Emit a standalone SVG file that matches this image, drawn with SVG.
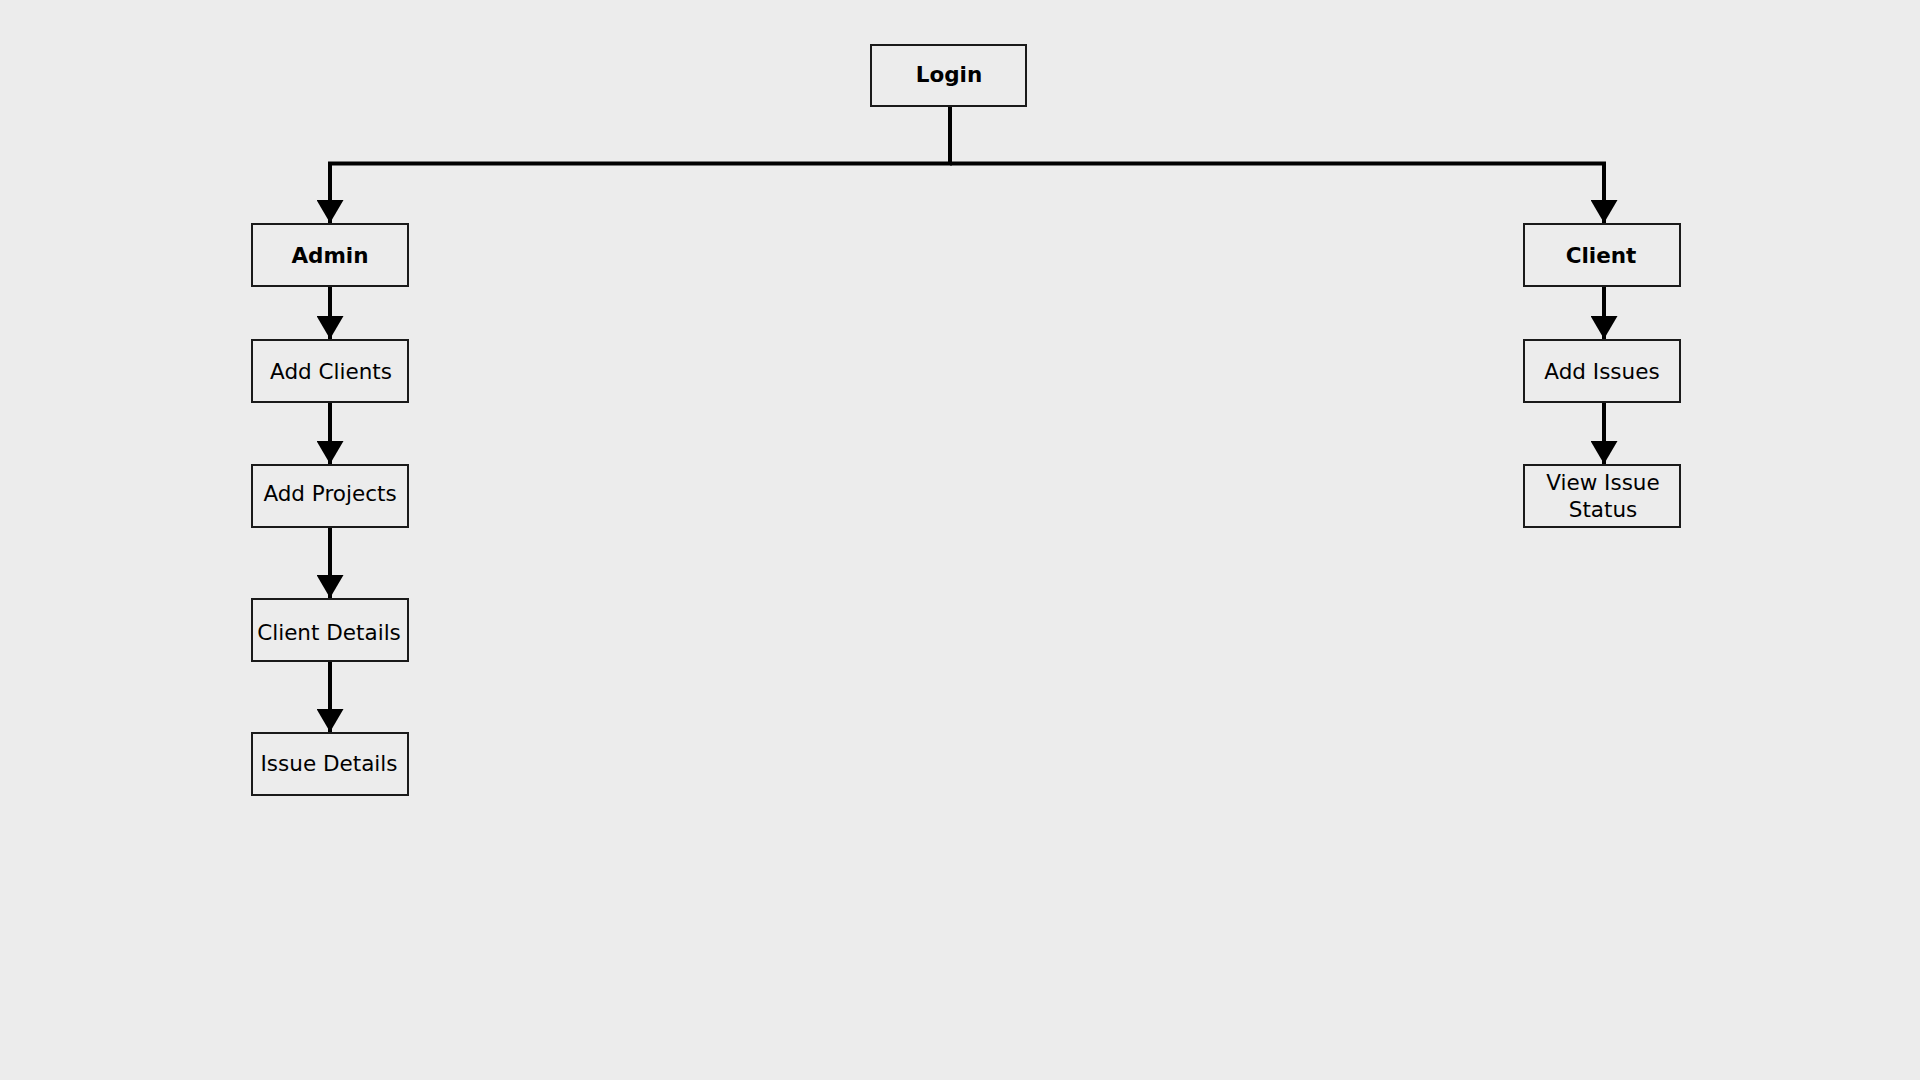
<svg xmlns="http://www.w3.org/2000/svg" width="1920" height="1080" viewBox="0 0 1920 1080">
<style>
.box{fill:#ececec;stroke:#1a1a1a;stroke-width:2}
.t{font-family:"DejaVu Sans",sans-serif;font-size:21.5px;fill:#000;text-anchor:middle}
.b{font-weight:bold}
.c{fill:none;stroke:#000;stroke-width:4}
</style>
<defs>
<marker id="ah" markerUnits="userSpaceOnUse" markerWidth="23" markerHeight="27" viewBox="0 0 23 27" refX="23" refY="13.5" orient="auto">
<path d="M0,0 L23,13.5 L0,27 z" fill="#000"/>
</marker>
</defs>
<rect width="1920" height="1080" fill="#ececec"/>
<g id="connectors">
<path class="c" d="M950,107 V163.5 H330 V223" marker-end="url(#ah)"/>
<path class="c" d="M950,163.5 H1604 V223" marker-end="url(#ah)"/>
<path class="c" d="M330,287 V339" marker-end="url(#ah)"/>
<path class="c" d="M330,403 V464" marker-end="url(#ah)"/>
<path class="c" d="M330,527 V598" marker-end="url(#ah)"/>
<path class="c" d="M330,661 V732" marker-end="url(#ah)"/>
<path class="c" d="M1604,287 V339" marker-end="url(#ah)"/>
<path class="c" d="M1604,403 V464" marker-end="url(#ah)"/>
</g>
<g id="login"><rect class="box" x="871" y="45" width="155" height="61"/><text class="t b" x="949" y="82">Login</text></g>
<g id="admin"><rect class="box" x="252" y="224" width="156" height="62"/><text class="t b" x="330" y="263">Admin</text></g>
<g id="add-clients"><rect class="box" x="252" y="340" width="156" height="62"/><text class="t" x="331" y="379">Add Clients</text></g>
<g id="add-projects"><rect class="box" x="252" y="465" width="156" height="62"/><text class="t" x="330" y="501">Add Projects</text></g>
<g id="client-details"><rect class="box" x="252" y="599" width="156" height="62"/><text class="t" x="329" y="640">Client Details</text></g>
<g id="issue-details"><rect class="box" x="252" y="733" width="156" height="62"/><text class="t" x="329" y="771">Issue Details</text></g>
<g id="client"><rect class="box" x="1524" y="224" width="156" height="62"/><text class="t b" x="1601" y="263">Client</text></g>
<g id="add-issues"><rect class="box" x="1524" y="340" width="156" height="62"/><text class="t" x="1602" y="379">Add Issues</text></g>
<g id="view-issue-status"><rect class="box" x="1524" y="465" width="156" height="62"/><text class="t" x="1603" y="490">View Issue</text><text class="t" x="1603" y="517">Status</text></g>
</svg>
